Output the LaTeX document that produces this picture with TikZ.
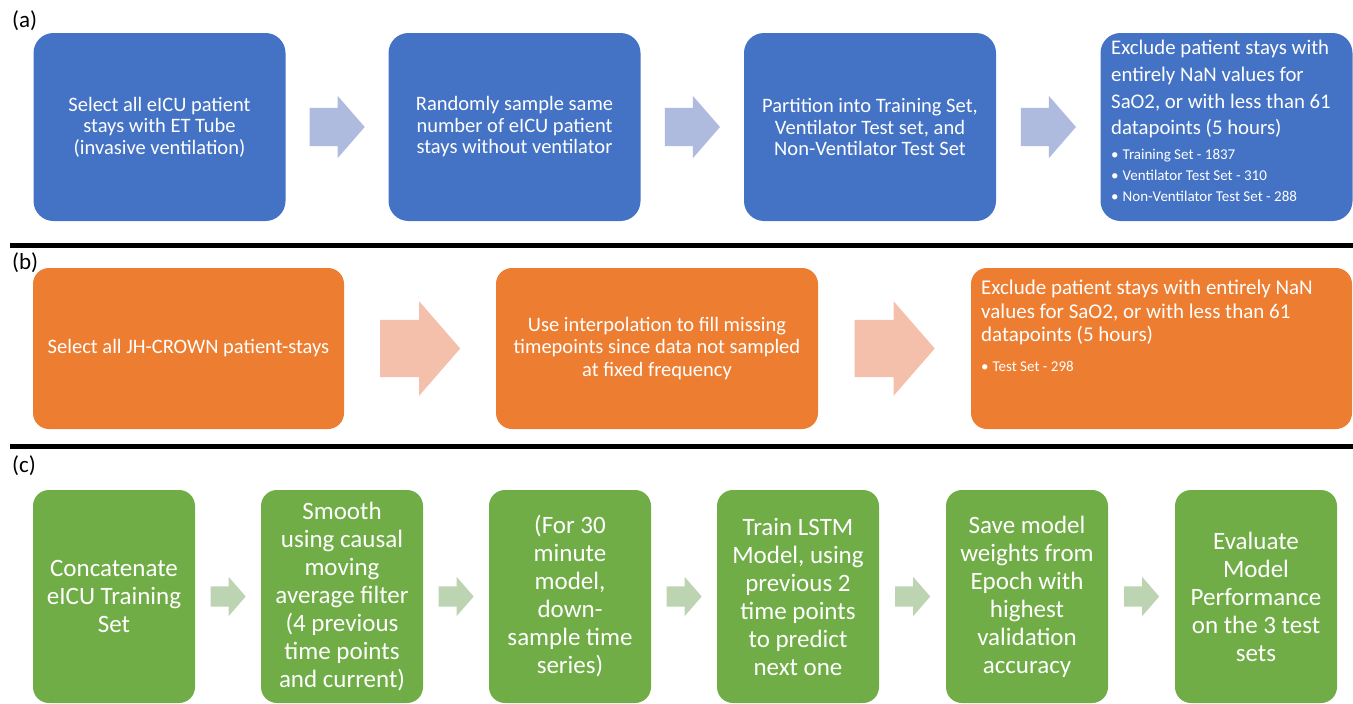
\documentclass[tikz,border=0pt]{standalone}
\usepackage{fontspec}
\setmainfont{Carlito}
\usetikzlibrary{shapes.arrows,calc}
\definecolor{blueBox}{RGB}{68,114,196}
\definecolor{orangeBox}{RGB}{237,125,49}
\definecolor{greenBox}{RGB}{112,173,71}
\definecolor{blueArr}{RGB}{175,187,222}
\definecolor{orangeArr}{RGB}{244,191,171}
\definecolor{greenArr}{RGB}{189,212,178}
\begin{document}
\begin{tikzpicture}[x=1pt,y=-1pt,
	boxA/.style={fill=blueBox, rounded corners=20pt, minimum width=252pt, minimum height=188pt, text=white, align=center, inner sep=0pt, font=\fontsize{20.5}{21.5}\selectfont},
	boxB/.style={fill=orangeBox, rounded corners=16pt, minimum height=161pt, text=white, align=center, inner sep=0pt},
	boxC/.style={fill=greenBox, rounded corners=16pt, minimum width=162pt, minimum height=213pt, text=white, align=center, inner sep=0pt, font=\fontsize{25}{28}\selectfont},
	inbox/.style={anchor=north west, text=white, align=left, inner sep=0pt},
	arrA/.style={single arrow, fill=blueArr, minimum height=55pt, inner xsep=0pt, inner ysep=19pt, single arrow head extend=12pt, single arrow tip angle=98, anchor=tail, xshift=-27.5pt},
	arrB/.style={single arrow, fill=orangeArr, minimum height=80pt, inner xsep=0pt, inner ysep=28.5pt, single arrow head extend=18.5pt, single arrow tip angle=98, anchor=tail, xshift=-40pt},
	arrC/.style={single arrow, fill=greenArr, minimum height=35pt, inner xsep=0pt, inner ysep=10pt, single arrow head extend=9.5pt, single arrow tip angle=98, anchor=tail, xshift=-17.5pt},
	panel/.style={anchor=west, inner sep=0pt, font=\fontsize{23}{27}\selectfont},
	sep/.style={line width=5pt}]
	\useasboundingbox (0,0) rectangle (1353,704);
	% (a) eICU selection
	\node[panel] (la) at (12,21) {(a)};
	\node[boxA] (a1) at (159.5,127) {Select all eICU patient\\stays with ET Tube\\(invasive ventilation)};
	\node[boxA] (a2) at (514.5,127) {Randomly sample same\\number of eICU patient\\stays without ventilator};
	\node[boxA] (a3) at (870,127) {Partition into Training Set,\\Ventilator Test set, and\\Non-Ventilator Test Set};
	\node[boxA] (a4) at (1226.5,127) {};
	\node[inbox, font=\fontsize{20.8}{26.7}\selectfont] (a4head) at (1111,40) {Exclude patient stays with\\entirely NaN values for\\SaO2, or with less than 61\\datapoints (5 hours)};
	\node[inbox, font=\fontsize{15}{21}\selectfont] (a4list) at (1111,149) {•\hspace{4pt}Training Set - 1837\\•\hspace{4pt}Ventilator Test Set - 310\\•\hspace{4pt}Non-Ventilator Test Set - 288};
	\node[arrA] (arA1) at ($(a1.east)!0.5!(a2.west)$) {};
	\node[arrA] (arA2) at ($(a2.east)!0.5!(a3.west)$) {};
	\node[arrA] (arA3) at ($(a3.east)!0.5!(a4.west)$) {};
	\draw[sep] (10,245) -- (1353,245);
	% (b) JH-CROWN selection
	\node[panel] (lb) at (12,263) {(b)};
	\node[boxB, minimum width=311pt, font=\fontsize{20.5}{24}\selectfont] (b1) at (188.5,348.5) {Select all JH-CROWN patient-stays};
	\node[boxB, minimum width=322pt, font=\fontsize{20.5}{22.5}\selectfont] (b2) at (657,348.5) {Use interpolation to fill missing\\timepoints since data not sampled\\at fixed frequency};
	\node[boxB, minimum width=381pt] (b3) at (1161.5,348.5) {};
	\node[inbox, font=\fontsize{21}{23.5}\selectfont] (b3head) at (981,280) {Exclude patient stays with entirely NaN\\values for SaO2, or with less than 61\\datapoints (5 hours)};
	\node[inbox, font=\fontsize{15}{21}\selectfont] (b3list) at (981,361) {•\hspace{4pt}Test Set - 298};
	\node[arrB] (arB1) at ($(b1.east)!0.5!(b2.west)$) {};
	\node[arrB] (arB2) at ($(b2.east)!0.5!(b3.west)$) {};
	\draw[sep] (10,446) -- (1353,446);
	% (c) model pipeline
	\node[panel] (lc) at (12,466) {(c)};
	\node[boxC] (c1) at (114,596.5) {Concatenate\\eICU Training\\Set};
	\node[boxC] (c2) at (342,596.5) {Smooth\\using causal\\moving\\average filter\\(4 previous\\time points\\and current)};
	\node[boxC] (c3) at (570,596.5) {(For 30\\minute\\model,\\down-\\sample time\\series)};
	\node[boxC] (c4) at (798,596.5) {Train LSTM\\Model, using\\previous 2\\time points\\to predict\\next one};
	\node[boxC] (c5) at (1027,596.5) {Save model\\weights from\\Epoch with\\highest\\validation\\accuracy};
	\node[boxC] (c6) at (1256,596.5) {Evaluate\\Model\\Performance\\on the 3 test\\sets};
	\foreach \i/\j in {1/2,2/3,3/4,4/5,5/6}
		\node[arrC] (arC\i) at ($(c\i.east)!0.5!(c\j.west)$) {};
\end{tikzpicture}
\end{document}
